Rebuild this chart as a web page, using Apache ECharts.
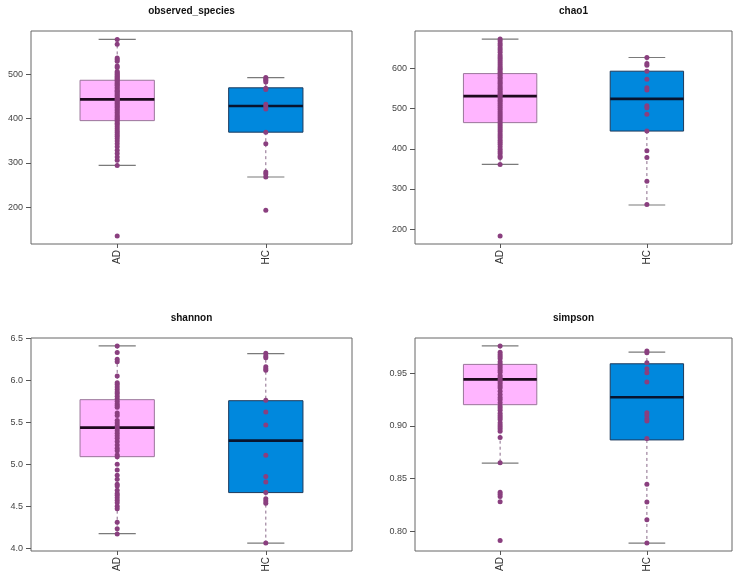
<!DOCTYPE html>
<html>
<head>
<meta charset="utf-8">
<script src="https://cdn.jsdelivr.net/npm/echarts@6/dist/echarts.min.js"></script>
<style>html,body{margin:0;padding:0;background:#fff;}#c{width:740px;height:580px;}</style>
</head>
<body>
<div id="c"></div>
<script>
// ---- data ----
const categories = ['AD', 'HC'];
const panelTitles = ['observed_species', 'chao1', 'shannon', 'simpson'];

// box stats: [lower whisker, Q1, median, Q3, upper whisker]
const obsBoxAD = [294, 395, 443, 486, 578];
const obsBoxHC = [268, 369, 428, 469, 492];
const chaoBoxAD = [361, 465, 531, 587, 673];
const chaoBoxHC = [260, 444, 524, 593, 627];
const shanBoxAD = [4.174, 5.09, 5.436, 5.769, 6.41];
const shanBoxHC = [4.06, 4.662, 5.281, 5.757, 6.317];
const simpBoxAD = [0.8646, 0.9202, 0.9443, 0.9585, 0.9762];
const simpBoxHC = [0.7886, 0.8867, 0.9272, 0.9591, 0.9702];

// sample points
const obsAD = [578, 567, 536, 533, 529, 518, 515, 506, 503, 500, 498, 495, 492, 490, 487, 485, 482, 479, 476, 474, 470, 467, 463, 461, 458, 455, 452, 449, 446, 444, 442, 440, 437, 434, 431, 428, 425, 421, 418, 414, 410, 406, 403, 400, 397, 393, 389, 386, 381, 377, 372, 368, 364, 360, 355, 349, 343, 336, 328, 321, 313, 306, 294, 135];
const obsHC = [492, 489, 486, 482, 468, 465, 432, 427, 421, 369, 343, 279, 275, 268, 193];
const chaoAD = [673, 668, 662, 657, 651, 646, 640, 633, 628, 624, 619, 614, 609, 604, 600, 596, 591, 587, 583, 578, 574, 569, 565, 561, 556, 552, 548, 543, 539, 535, 531, 527, 522, 518, 513, 508, 503, 498, 493, 488, 483, 478, 473, 467, 462, 457, 452, 447, 442, 437, 432, 427, 421, 416, 411, 405, 399, 393, 388, 382, 378, 361, 183];
const chaoHC = [627, 612, 608, 593, 573, 552, 546, 507, 502, 486, 444, 395, 378, 319, 261];
const shanAD = [6.41, 6.33, 6.25, 6.22, 6.05, 5.97, 5.95, 5.92, 5.89, 5.86, 5.84, 5.81, 5.78, 5.75, 5.72, 5.70, 5.68, 5.61, 5.58, 5.52, 5.49, 5.46, 5.43, 5.40, 5.37, 5.34, 5.31, 5.27, 5.23, 5.19, 5.16, 5.11, 5.09, 5.00, 4.93, 4.87, 4.82, 4.76, 4.74, 4.69, 4.65, 4.63, 4.60, 4.57, 4.54, 4.50, 4.47, 4.31, 4.23, 4.17];
const shanHC = [6.321, 6.289, 6.269, 6.162, 6.138, 6.119, 5.762, 5.623, 5.468, 5.107, 4.853, 4.789, 4.662, 4.59, 4.563, 4.535, 4.06];
const simpAD = [0.976, 0.970, 0.968, 0.966, 0.964, 0.961, 0.959, 0.957, 0.955, 0.953, 0.951, 0.948, 0.946, 0.944, 0.942, 0.940, 0.938, 0.936, 0.933, 0.930, 0.927, 0.925, 0.922, 0.919, 0.917, 0.915, 0.912, 0.910, 0.908, 0.906, 0.903, 0.901, 0.899, 0.897, 0.895, 0.889, 0.865, 0.837, 0.835, 0.833, 0.828, 0.791];
const simpHC = [0.9712, 0.9696, 0.960, 0.9544, 0.9506, 0.9417, 0.9126, 0.910, 0.9069, 0.9047, 0.888, 0.8446, 0.8278, 0.8107, 0.7886];

// tick labels
const obsTicks = [200, 300, 400, 500];
const chaoTicks = [200, 300, 400, 500, 600];
const shanTicks = [4.0, 4.5, 5.0, 5.5, 6.0, 6.5];
const simpTicks = [0.80, 0.85, 0.90, 0.95];

// ---- layout / style ----
const panels = [
  {title: panelTitles[0], boxes: [obsBoxAD, obsBoxHC], pts: [obsAD, obsHC], ticks: obsTicks, ymin: 117, ymax: 597, dec: 0, grid: {left: 31, top: 31, width: 321, height: 213}, tx: 191.5, ty: 11},
  {title: panelTitles[1], boxes: [chaoBoxAD, chaoBoxHC], pts: [chaoAD, chaoHC], ticks: chaoTicks, ymin: 163, ymax: 693, dec: 0, grid: {left: 415, top: 31, width: 317, height: 213}, tx: 573.5, ty: 11},
  {title: panelTitles[2], boxes: [shanBoxAD, shanBoxHC], pts: [shanAD, shanHC], ticks: shanTicks, ymin: 3.966, ymax: 6.504, dec: 1, grid: {left: 31, top: 338, width: 321, height: 213}, tx: 191.5, ty: 318},
  {title: panelTitles[3], boxes: [simpBoxAD, simpBoxHC], pts: [simpAD, simpHC], ticks: simpTicks, ymin: 0.7811, ymax: 0.9836, dec: 2, grid: {left: 415, top: 338, width: 317, height: 213}, tx: 573.5, ty: 318}
];
const boxFill = ['#FFB5FF', '#0088DD'];
const boxStroke = ['#9A769A', '#1D3A5C'];
const medColor = ['#1E0A1E', '#08142E'];
const dotColor = '#8A3F7F';

function renderBox(params, api) {
  const i = params.dataIndex;
  const x = api.value(0);
  const lo = api.value(1), q1 = api.value(2), med = api.value(3), q3 = api.value(4), hi = api.value(5);
  const hw = 0.25, cw = 0.125;
  const p = (xx, v) => api.coord([xx, v]);
  const cTop = p(x, hi), cQ3 = p(x, q3), cQ1 = p(x, q1), cLo = p(x, lo);
  const bl = p(x - hw, q3), br = p(x + hw, q1);
  const mL = p(x - hw, med), mR = p(x + hw, med);
  const capL1 = p(x - cw, hi), capR1 = p(x + cw, hi);
  const capL2 = p(x - cw, lo), capR2 = p(x + cw, lo);
  const dash = {stroke: '#8A6A8A', lineWidth: 1, lineDash: [3, 3]};
  const cap = {stroke: '#7A7A7A', lineWidth: 1.2};
  return {
    type: 'group',
    children: [
      {type: 'line', shape: {x1: cTop[0], y1: cTop[1], x2: cQ3[0], y2: cQ3[1]}, style: dash},
      {type: 'line', shape: {x1: cQ1[0], y1: cQ1[1], x2: cLo[0], y2: cLo[1]}, style: dash},
      {type: 'line', shape: {x1: capL1[0], y1: capL1[1], x2: capR1[0], y2: capR1[1]}, style: cap},
      {type: 'line', shape: {x1: capL2[0], y1: capL2[1], x2: capR2[0], y2: capR2[1]}, style: cap},
      {type: 'rect', shape: {x: bl[0], y: bl[1], width: br[0] - bl[0], height: br[1] - bl[1]}, style: {fill: boxFill[i], stroke: boxStroke[i], lineWidth: 1}},
      {type: 'line', shape: {x1: mL[0], y1: mL[1], x2: mR[0], y2: mR[1]}, style: {stroke: medColor[i], lineWidth: 2.6}}
    ]
  };
}

const option = {
  backgroundColor: '#fff',
  animation: false,
  title: [], grid: [], xAxis: [], yAxis: [], series: []
};
const fontFam = 'Liberation Sans, Arial, sans-serif';

panels.forEach((pn, k) => {
  option.title.push({text: pn.title, left: pn.tx, top: pn.ty, padding: 0, textAlign: 'center', textVerticalAlign: 'middle',
    textStyle: {fontFamily: fontFam, fontWeight: 'bold', fontSize: 10, color: '#111'}});
  option.grid.push(Object.assign({show: true, borderColor: '#666', borderWidth: 1, backgroundColor: 'transparent'}, pn.grid));
  option.xAxis.push({
    type: 'value', gridIndex: k, min: 0.42, max: 2.58,
    axisLine: {show: false}, splitLine: {show: false},
    axisTick: {show: true, customValues: [1, 2], length: 4, lineStyle: {color: '#555'}},
    axisLabel: {customValues: [1, 2], rotate: 90, margin: 6, fontSize: 10, fontFamily: fontFam, color: '#333',
      formatter: v => categories[Math.round(v) - 1] || ''}
  });
  option.yAxis.push({
    type: 'value', gridIndex: k, min: pn.ymin, max: pn.ymax,
    axisLine: {show: false}, splitLine: {show: false},
    axisTick: {show: true, customValues: pn.ticks, length: 5, lineStyle: {color: '#555'}},
    axisLabel: {customValues: pn.ticks, margin: 8, fontSize: 9, fontFamily: fontFam, color: '#444',
      formatter: v => v.toFixed(pn.dec)}
  });
  option.series.push({
    type: 'custom', xAxisIndex: k, yAxisIndex: k, renderItem: renderBox, z: 2,
    data: pn.boxes.map((b, j) => [j + 1].concat(b))
  });
  option.series.push({
    type: 'scatter', xAxisIndex: k, yAxisIndex: k, z: 3, symbol: 'circle', symbolSize: 5,
    itemStyle: {color: dotColor, opacity: 1},
    data: pn.pts.flatMap((arr, j) => arr.map(v => [j + 1, v]))
  });
});

const chart = echarts.init(document.getElementById('c'), null, {renderer: 'canvas'});
chart.setOption(option);
</script>
</body>
</html>
